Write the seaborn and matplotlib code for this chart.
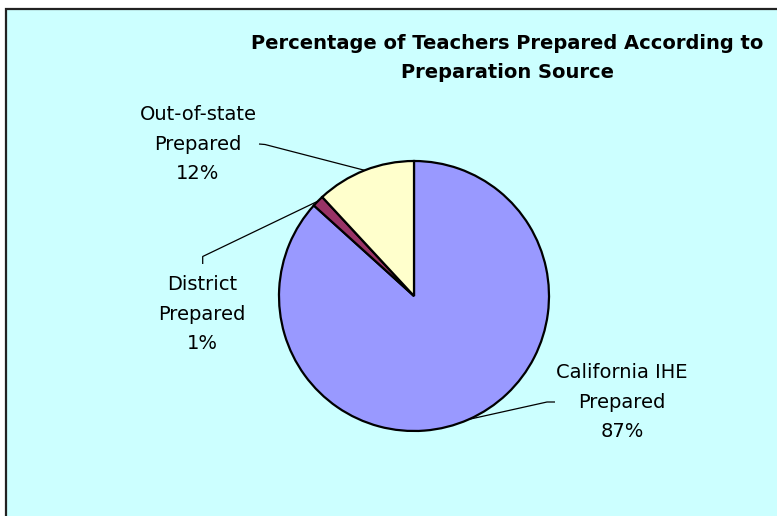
import numpy as np
import matplotlib
matplotlib.use("Agg")
import matplotlib.pyplot as plt
from matplotlib.patches import Rectangle
import seaborn as sns

# ---- data ----
categories = ["California IHE\nPrepared", "District\nPrepared", "Out-of-state\nPrepared"]
values = [86.7, 1.4, 11.9]
pct_labels = ["87%", "1%", "12%"]
colors = ["#9999FF", "#993366", "#FFFFCC"]
title = "Percentage of Teachers Prepared According to\nPreparation Source"

# ---- layout (pixel positions on a 777x516 canvas) ----
W, H = 777, 516
CX, CY, R = 414, 296, 135          # pie centre and radius in pixels
label_pos = [(622, 402), (202, 314), (198, 144)]
leader_tail = [[(555, 402), (547, 402)],
               [(202.7, 264), (202.7, 256.5)],
               [(259, 144), (265, 144.5)]]


def px(x, y):
    return ((x - CX) / R, (CY - y) / R)


sns.set_theme(style="white")
plt.rcParams["font.family"] = ["DejaVu Sans"]

fig = plt.figure(figsize=(W / 100, H / 100), dpi=100)
fig.patch.set_facecolor("white")
ax = fig.add_axes([0, 0, 1, 1])
ax.set_facecolor("none")
ax.axis("off")

# chart area background with top/left border
bg = Rectangle((5.5 / W, -0.1), 1.2, (H - 8.5) / H + 0.1, transform=ax.transAxes,
               facecolor="#CCFFFF", edgecolor="#222222", linewidth=1.6,
               zorder=0, clip_on=False)
ax.add_patch(bg)

palette = sns.color_palette(colors)
wedges, _ = ax.pie(values, colors=palette, startangle=90, counterclock=False,
                   radius=1, center=(0, 0),
                   wedgeprops=dict(edgecolor="black", linewidth=1.6))
for w in wedges:
    w.set_zorder(2)

ax.set_xlim((0 - CX) / R, (W - CX) / R)
ax.set_ylim((CY - H) / R, CY / R)
ax.set_aspect("equal")

for w, cat, pct, lp, tail in zip(wedges, categories, pct_labels, label_pos, leader_tail):
    mid = np.deg2rad((w.theta1 + w.theta2) / 2)
    ex, ey = np.cos(mid), np.sin(mid)
    pts = [px(*p) for p in tail] + [(ex, ey)]
    xs, ys = zip(*pts)
    ax.plot(xs, ys, color="black", linewidth=0.9, zorder=3, solid_capstyle="butt")
    tx, ty = px(*lp)
    ax.text(tx, ty, f"{cat}\n{pct}", ha="center", va="center", ma="center",
            fontsize=14, linespacing=1.7, color="black", zorder=4)

tx, ty = px(507, 58)
ax.text(tx, ty, title, ha="center", va="center", ma="center", fontsize=14,
        fontweight="bold", linespacing=1.72, color="black", zorder=4)

fig.savefig("out.png", dpi=100, facecolor=fig.get_facecolor())
